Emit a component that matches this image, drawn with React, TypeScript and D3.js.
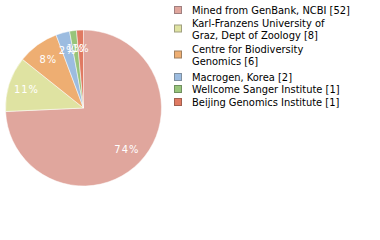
import React from "react";
import * as d3 from "d3";

const categories = [
  "Mined from GenBank, NCBI [52]",
  "Karl-Franzens University of|Graz, Dept of Zoology [8]",
  "Centre for Biodiversity|Genomics [6]",
  "Macrogen, Korea [2]",
  "Wellcome Sanger Institute [1]",
  "Beijing Genomics Institute [1]",
];
const values = [52, 8, 6, 2, 1, 1];
const colors = ["#e0a69d", "#dfe3a2", "#eeae72", "#9cbce0", "#98c47a", "#e07a62"];
const legendBorders = ["#a08080", "#a0a080", "#a08060", "#8090a0", "#709060", "#a06050"];

const FONT = "'DejaVu Sans Condensed', 'DejaVu Sans', sans-serif";

export default function App() {
  const cx = 83.5, cy = 108, r = 78;
  const total = d3.sum(values);
  const pie = d3.pie<number>().sort(null).startAngle(0).endAngle(2 * Math.PI);
  const arcs = pie(values);
  const arc = d3.arc<d3.PieArcDatum<number>>().innerRadius(0).outerRadius(r);
  const labelArc = d3.arc<d3.PieArcDatum<number>>().innerRadius(60 * 2 - r).outerRadius(r);
  const legendRowsY = [10, 23, 49, 77, 89, 102];
  return (
    <svg width={380} height={240} style={{ position: "absolute", left: 0, top: 0 }}>
      <g transform={`translate(${cx},${cy})`}>
        {arcs.map((a, i) => (
          <path key={i} d={arc(a) || ""} fill={colors[i]} stroke="#ffffff" strokeWidth={0.5} />
        ))}
        {arcs.map((a, i) => {
          const [x, y] = labelArc.centroid(a);
          return (
            <text key={i} x={x} y={y} dy="0.35em" textAnchor="middle" fill="#ffffff"
              fontFamily={FONT} fontStretch="condensed" fontSize={11} letterSpacing={1}>
              {Math.floor((values[i] / total) * 100) + "%"}
            </text>
          );
        })}
      </g>
      {categories.map((c, i) => {
        const lines = c.split("|");
        const y0 = legendRowsY[i];
        const sqY = lines.length > 1 ? y0 + 5.5 : y0;
        return (
          <g key={i}>
            <rect x={174.5} y={sqY - 3.5} width={7} height={7} fill={colors[i]} stroke={legendBorders[i]} strokeWidth={1} />
            {lines.map((l, j) => (
              <text key={j} x={192} y={y0 + j * 12} dy="0.35em" fontFamily={FONT} fontStretch="condensed" fontSize={11} fill="#000">
                {l}
              </text>
            ))}
          </g>
        );
      })}
    </svg>
  );
}
